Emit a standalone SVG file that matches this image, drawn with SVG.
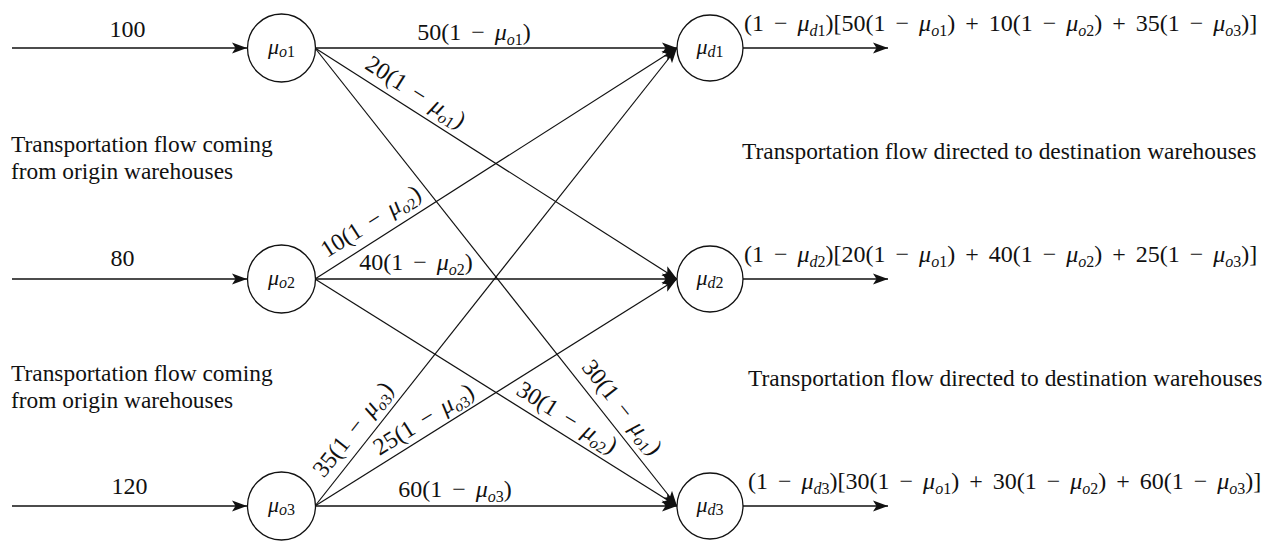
<svg xmlns="http://www.w3.org/2000/svg" width="1280" height="541" viewBox="0 0 1280 541">
<style>
.bg{fill:#fff}
.node circle{fill:#fff;stroke:#111;stroke-width:1.3}
.h{stroke:#111;stroke-width:1.7;fill:none}
.d{stroke:#111;stroke-width:1.2;fill:none}
.m{font-family:"Liberation Serif","Times New Roman",serif;font-size:24px;word-spacing:4px;fill:#111}
.nl{font-family:"Liberation Serif","Times New Roman",serif;font-size:22px;fill:#111}
.t{font-family:"Liberation Serif","Times New Roman",serif;font-size:23.4px;fill:#111}
.it{font-style:italic}
.sub{font-size:16px}
</style>
<defs>
<marker id="ah" markerUnits="userSpaceOnUse" markerWidth="16" markerHeight="12" refX="15" refY="6" orient="auto"><path d="M0,0.5 L15,6 L0,11.5 L3.5,6 z" fill="#111"/></marker>
</defs>
<rect class="bg" x="0" y="0" width="1280" height="541"/>
<g id="connectors">
<line class="h" x1="12" y1="48" x2="247" y2="48" marker-end="url(#ah)"/>
<line class="h" x1="12" y1="279" x2="247" y2="279" marker-end="url(#ah)"/>
<line class="h" x1="12" y1="506" x2="247" y2="506" marker-end="url(#ah)"/>
<line class="h" x1="315" y1="48" x2="677" y2="48" marker-end="url(#ah)"/>
<line class="d" x1="315" y1="48" x2="677" y2="279" marker-end="url(#ah)"/>
<line class="d" x1="315" y1="48" x2="677" y2="506" marker-end="url(#ah)"/>
<line class="d" x1="315" y1="279" x2="677" y2="48" marker-end="url(#ah)"/>
<line class="h" x1="315" y1="279" x2="677" y2="279" marker-end="url(#ah)"/>
<line class="d" x1="315" y1="279" x2="677" y2="506" marker-end="url(#ah)"/>
<line class="d" x1="315" y1="506" x2="677" y2="48" marker-end="url(#ah)"/>
<line class="d" x1="315" y1="506" x2="677" y2="279" marker-end="url(#ah)"/>
<line class="h" x1="315" y1="506" x2="677" y2="506" marker-end="url(#ah)"/>
<line class="h" x1="743" y1="48" x2="888" y2="48" marker-end="url(#ah)"/>
<line class="h" x1="743" y1="279" x2="888" y2="279" marker-end="url(#ah)"/>
<line class="h" x1="743" y1="506" x2="888" y2="506" marker-end="url(#ah)"/>
<text class="m" x="127.5" y="37" text-anchor="middle">100</text>
<text class="m" x="122.5" y="266" text-anchor="middle">80</text>
<text class="m" x="129.5" y="494" text-anchor="middle">120</text>
<text class="m" x="474" y="40" text-anchor="middle">50(1 − <tspan class="it">μ</tspan><tspan class="sub" dy="5"><tspan class="it">o</tspan>1</tspan><tspan dy="-5">)</tspan></text>
<text class="m" x="416" y="270" text-anchor="middle">40(1 − <tspan class="it">μ</tspan><tspan class="sub" dy="5"><tspan class="it">o</tspan>2</tspan><tspan dy="-5">)</tspan></text>
<text class="m" x="455" y="497" text-anchor="middle">60(1 − <tspan class="it">μ</tspan><tspan class="sub" dy="5"><tspan class="it">o</tspan>3</tspan><tspan dy="-5">)</tspan></text>
<g transform="translate(406.2,106.9) rotate(32.43)"><text class="m" x="0" y="-10" text-anchor="middle">20(1 − <tspan class="it">μ</tspan><tspan class="sub" dy="5"><tspan class="it">o</tspan>1</tspan><tspan dy="-5">)</tspan></text></g>
<g transform="translate(380.8,237.2) rotate(-32.43)"><text class="m" x="0" y="-11" text-anchor="middle">10(1 − <tspan class="it">μ</tspan><tspan class="sub" dy="5"><tspan class="it">o</tspan>2</tspan><tspan dy="-5">)</tspan></text></g>
<g transform="translate(607.5,418.8) rotate(51.62)"><text class="m" x="0" y="-11" text-anchor="middle">30(1 − <tspan class="it">μ</tspan><tspan class="sub" dy="5"><tspan class="it">o</tspan>1</tspan><tspan dy="-5">)</tspan></text></g>
<g transform="translate(558.3,431.5) rotate(32.09)"><text class="m" x="0" y="-9" text-anchor="middle">30(1 − <tspan class="it">μ</tspan><tspan class="sub" dy="5"><tspan class="it">o</tspan>2</tspan><tspan dy="-5">)</tspan></text></g>
<g transform="translate(366.8,440.5) rotate(-51.62)"><text class="m" x="0" y="-10" text-anchor="middle">35(1 − <tspan class="it">μ</tspan><tspan class="sub" dy="5"><tspan class="it">o</tspan>3</tspan><tspan dy="-5">)</tspan></text></g>
<g transform="translate(431.9,432.7) rotate(-32.09)"><text class="m" x="0" y="-8" text-anchor="middle">25(1 − <tspan class="it">μ</tspan><tspan class="sub" dy="5"><tspan class="it">o</tspan>3</tspan><tspan dy="-5">)</tspan></text></g>
<text class="m" x="744" y="31">(1 − <tspan class="it">μ</tspan><tspan class="sub" dy="5"><tspan class="it">d</tspan>1</tspan><tspan dy="-5">)[50(1 − </tspan><tspan class="it">μ</tspan><tspan class="sub" dy="5"><tspan class="it">o</tspan>1</tspan><tspan dy="-5">) + 10(1 − </tspan><tspan class="it">μ</tspan><tspan class="sub" dy="5"><tspan class="it">o</tspan>2</tspan><tspan dy="-5">) + 35(1 − </tspan><tspan class="it">μ</tspan><tspan class="sub" dy="5"><tspan class="it">o</tspan>3</tspan><tspan dy="-5">)]</tspan></text>
<text class="m" x="744" y="262">(1 − <tspan class="it">μ</tspan><tspan class="sub" dy="5"><tspan class="it">d</tspan>2</tspan><tspan dy="-5">)[20(1 − </tspan><tspan class="it">μ</tspan><tspan class="sub" dy="5"><tspan class="it">o</tspan>1</tspan><tspan dy="-5">) + 40(1 − </tspan><tspan class="it">μ</tspan><tspan class="sub" dy="5"><tspan class="it">o</tspan>2</tspan><tspan dy="-5">) + 25(1 − </tspan><tspan class="it">μ</tspan><tspan class="sub" dy="5"><tspan class="it">o</tspan>3</tspan><tspan dy="-5">)]</tspan></text>
<text class="m" x="748" y="489">(1 − <tspan class="it">μ</tspan><tspan class="sub" dy="5"><tspan class="it">d</tspan>3</tspan><tspan dy="-5">)[30(1 − </tspan><tspan class="it">μ</tspan><tspan class="sub" dy="5"><tspan class="it">o</tspan>1</tspan><tspan dy="-5">) + 30(1 − </tspan><tspan class="it">μ</tspan><tspan class="sub" dy="5"><tspan class="it">o</tspan>2</tspan><tspan dy="-5">) + 60(1 − </tspan><tspan class="it">μ</tspan><tspan class="sub" dy="5"><tspan class="it">o</tspan>3</tspan><tspan dy="-5">)]</tspan></text>
</g>
<g id="o1" class="node"><circle cx="281.5" cy="48" r="34"/><text class="nl" x="281.5" y="54" text-anchor="middle"><tspan class="it">μ</tspan><tspan class="sub" dy="3"><tspan class="it">o</tspan>1</tspan></text></g>
<g id="o2" class="node"><circle cx="281.5" cy="279" r="34"/><text class="nl" x="281.5" y="285" text-anchor="middle"><tspan class="it">μ</tspan><tspan class="sub" dy="3"><tspan class="it">o</tspan>2</tspan></text></g>
<g id="o3" class="node"><circle cx="281.5" cy="506" r="34"/><text class="nl" x="281.5" y="512" text-anchor="middle"><tspan class="it">μ</tspan><tspan class="sub" dy="3"><tspan class="it">o</tspan>3</tspan></text></g>
<g id="d1" class="node"><circle cx="710" cy="48" r="33"/><text class="nl" x="710" y="54" text-anchor="middle"><tspan class="it">μ</tspan><tspan class="sub" dy="3"><tspan class="it">d</tspan>1</tspan></text></g>
<g id="d2" class="node"><circle cx="710" cy="279" r="33"/><text class="nl" x="710" y="285" text-anchor="middle"><tspan class="it">μ</tspan><tspan class="sub" dy="3"><tspan class="it">d</tspan>2</tspan></text></g>
<g id="d3" class="node"><circle cx="710" cy="506" r="33"/><text class="nl" x="710" y="512" text-anchor="middle"><tspan class="it">μ</tspan><tspan class="sub" dy="3"><tspan class="it">d</tspan>3</tspan></text></g>
<g id="notes">
<text class="t" x="11" y="152">Transportation flow coming</text>
<text class="t" x="11" y="179">from origin warehouses</text>
<text class="t" x="11" y="381">Transportation flow coming</text>
<text class="t" x="11" y="408">from origin warehouses</text>
<text class="t" x="742" y="159">Transportation flow directed to destination warehouses</text>
<text class="t" x="748" y="386">Transportation flow directed to destination warehouses</text>
</g>
</svg>
